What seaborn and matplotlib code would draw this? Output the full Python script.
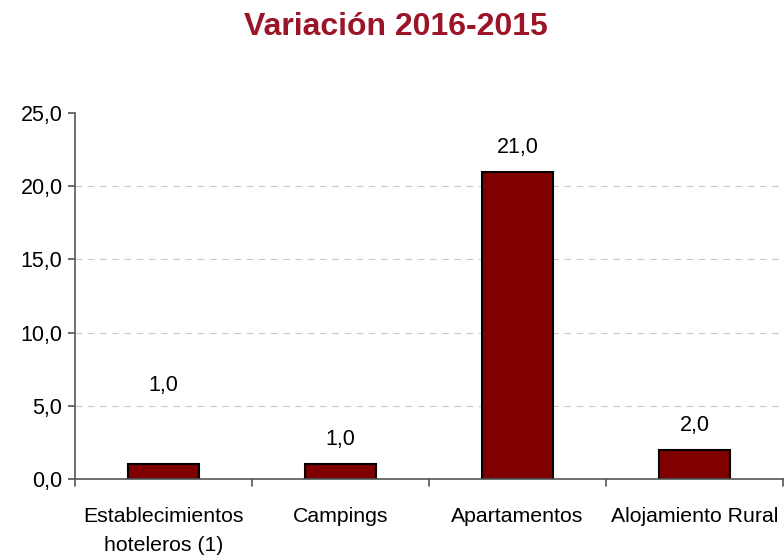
import matplotlib
matplotlib.use("Agg")
import matplotlib.pyplot as plt
import seaborn as sns
import pandas as pd
from matplotlib.ticker import FuncFormatter

categories = ["Establecimientos\nhoteleros (1)", "Campings", "Apartamentos", "Alojamiento Rural"]
values = [1.0, 1.0, 21.0, 2.0]
label_texts = ["1,0", "1,0", "21,0", "2,0"]
title = "Variación 2016-2015"

sns.set_theme(style="white")
plt.rcParams["font.family"] = ["Liberation Sans", "DejaVu Sans"]

df = pd.DataFrame({"cat": categories, "val": values})

fig = plt.figure(figsize=(7.84, 5.56), dpi=100)
ax = fig.add_axes([75/784, 1-479/556, (783-75)/784, (479-113)/556])

sns.barplot(data=df, x="cat", y="val", ax=ax, color="#800000", width=0.4,
            edgecolor="black", linewidth=1.5, saturation=1)

ax.set_ylim(0, 25)
ax.set_xlim(-0.5, len(categories) - 0.5)
ax.set_yticks([0, 5, 10, 15, 20, 25])
ax.yaxis.set_major_formatter(FuncFormatter(lambda v, p: f"{v:.1f}".replace(".", ",")))
for yv in [5, 10, 15, 20]:
    ax.axhline(yv, color="#c8c8c8", linestyle=(0, (6, 5)), linewidth=0.8, zorder=0)

ax.set_xticks(range(len(categories)))
ax.set_xticklabels(categories, fontsize=15.3, linespacing=1.65)
ax.tick_params(axis="x", length=0, pad=20)
for b in [i - 0.5 for i in range(len(categories) + 1)]:
    ax.plot([b, b], [0, -0.45], color="#555555", lw=1.2, clip_on=False)
ax.tick_params(axis="y", length=5, width=1.2, color="#555555", labelsize=15.5, left=True, pad=4)
for lab in ax.get_yticklabels():
    lab.set_color("black")
for lab in ax.get_xticklabels():
    lab.set_color("black")

ax.set_xlabel("")
ax.set_ylabel("")
for s in ["top", "right"]:
    ax.spines[s].set_visible(False)
for s in ["left", "bottom"]:
    ax.spines[s].set_color("#555555")
    ax.spines[s].set_linewidth(1.2)

offsets = [4.65, 0.95, 0.95, 0.95]
for i, (v, t) in enumerate(zip(values, label_texts)):
    ax.text(i, v + offsets[i], t, ha="center", va="bottom", fontsize=15.5, color="black")

fig.text(396/784, 1-27/556, title, ha="center", va="center", fontsize=23,
         fontweight="bold", color="#9B1528")

fig.savefig("out.png", dpi=100)
